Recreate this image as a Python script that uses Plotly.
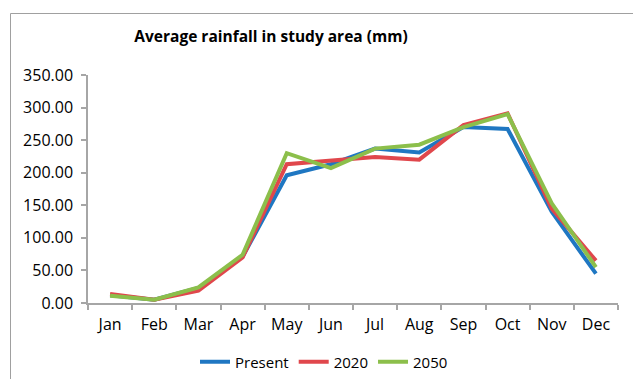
import plotly.graph_objects as go

months = ["Jan", "Feb", "Mar", "Apr", "May", "Jun", "Jul", "Aug", "Sep", "Oct", "Nov", "Dec"]
present = [12, 5, 23, 71, 196, 213, 237, 231, 270, 267, 140, 45]
y2020 = [14, 5, 19, 70, 213, 219, 224, 220, 273, 291, 145, 65]
y2050 = [11, 5, 24, 74, 230, 207, 237, 243, 270, 290, 153, 55]
yticks = [0, 50, 100, 150, 200, 250, 300, 350]

FONT = "Open Sans"
fig = go.Figure()
for name, vals, col in [("Present", present, "#1F77C2"), ("2020", y2020, "#E0474C"), ("2050", y2050, "#8CBF4B")]:
    fig.add_trace(go.Scatter(x=months, y=vals, mode="lines", name=name,
                             line=dict(color=col, width=4)))

bx = (10.5 - 88) / 530
by = (303 - 13.5) / 228
fig.update_layout(
    width=633, height=379,
    margin=dict(l=88, r=15, t=75, b=76, autoexpand=False),
    paper_bgcolor="white", plot_bgcolor="white",
    font=dict(family=FONT, size=15, color="#000000"),
    title=dict(text="<b>Average rainfall in study area (mm)</b>", x=271/633, xanchor="center",
               y=1 - 37/379, yanchor="middle", font=dict(family=FONT, size=15.5, color="#000")),
    showlegend=True,
    legend=dict(orientation="h", x=(324-88)/530, xanchor="center", y=(303-362)/228, yanchor="middle",
                font=dict(family=FONT, size=15), itemwidth=30, tracegroupgap=0),
    shapes=[
        dict(type="line", xref="paper", yref="paper", x0=bx, x1=bx, y0=-0.5, y1=by,
             line=dict(color="#A0A0A0", width=1)),
        dict(type="line", xref="paper", yref="paper", x0=bx, x1=1.2, y0=by, y1=by,
             line=dict(color="#A0A0A0", width=1)),
    ],
)
fig.update_xaxes(type="category", range=[-0.5, 11.5], showgrid=False, showline=True,
                 linecolor="#A6A6A6", linewidth=1.5, ticks="outside", tickson="boundaries",
                 ticklen=5, tickcolor="#A6A6A6", tickwidth=1.5, tickfont=dict(size=16),
                 ticklabelstandoff=6)
fig.update_yaxes(range=[0, 350], tickvals=yticks, ticktext=[f"{v:.2f}" for v in yticks],
                 showgrid=False, showline=True, linecolor="#A6A6A6", linewidth=1.5,
                 ticks="outside", ticklen=5, tickcolor="#A6A6A6", tickwidth=1.5,
                 zeroline=False, tickfont=dict(size=16), ticklabelstandoff=5)

fig.write_html("out.html")
